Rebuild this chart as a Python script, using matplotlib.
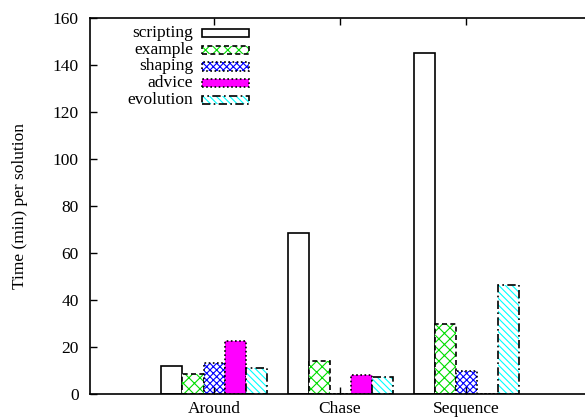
import matplotlib
matplotlib.use("Agg")
import matplotlib.pyplot as plt
from matplotlib.patches import Rectangle
import numpy as np

plt.rcParams["font.family"] = ["Liberation Serif", "DejaVu Serif"]
plt.rcParams["hatch.linewidth"] = 0.8

groups = ["Around", "Chase", "Sequence"]
series = ["scripting", "example", "shaping", "advice", "evolution"]
scripting = [12, 68.5, 145]
example = [8.5, 14, 30]
shaping = [13, 0, 10]
advice = [22.5, 8, 0]
evolution = [11, 7.3, 46.5]
values = [scripting, example, shaping, advice, evolution]

# fill colour, hatch colour, hatch, edge linestyle
styles = [
    ("white", "white", None, "-"),
    ("white", "#00dd00", "xxx", (0, (3, 2))),
    ("white", "blue", "xxxxx", (0, (1, 1.5))),
    ("magenta", "magenta", None, (0, (1, 1.5))),
    ("white", "cyan", "\\\\\\\\\\", (0, (5, 2, 1, 2))),
]

fig = plt.figure(figsize=(5.85, 4.17), dpi=100)
ax = fig.add_axes([90 / 585, 23 / 417, 495 / 585, 376 / 417])

x = np.arange(len(groups))
w = 1 / 6
for i, (name, vals) in enumerate(zip(series, values)):
    face, hcol, hatch, ls = styles[i]
    pos = x + (i - 2) * w
    ax.bar(pos, vals, w, color=face, edgecolor=hcol, hatch=hatch, linewidth=0)
    ax.bar(pos, vals, w, fill=False, edgecolor="black", linewidth=1.2, linestyle=ls)

ax.set_xlim(-0.984, 2.944)
ax.set_ylim(0, 160)
ax.set_yticks(np.arange(0, 161, 20))
ax.set_xticks(x)
ax.set_xticklabels(groups)
ax.tick_params(direction="in", length=5, width=1, top=True, right=False, labelsize=12.5)
ax.tick_params(axis="x", pad=5)
ax.tick_params(axis="y", pad=8)
ax.spines["right"].set_visible(False)
for s in ["left", "top", "bottom"]:
    ax.spines[s].set_linewidth(1.2)
ax.set_ylabel("Time (min) per solution", fontsize=12.5)
ax.yaxis.set_label_coords(-0.125, 0.5)

# legend, gnuplot style: labels right-aligned left of sample boxes
for i, name in enumerate(series):
    face, hcol, hatch, ls = styles[i]
    yc = (394 - (33 + 16.75 * i)) / 376
    x0 = (202 - 90) / 495
    bw = (249 - 202) / 495
    bh = 8 / 376
    ax.text((193 - 90) / 495, yc, name, transform=ax.transAxes, ha="right", va="center", fontsize=12.5)
    ax.add_patch(Rectangle((x0, yc - bh / 2), bw, bh, transform=ax.transAxes,
                           facecolor=face, edgecolor=hcol, hatch=hatch, linewidth=0))
    ax.add_patch(Rectangle((x0, yc - bh / 2), bw, bh, transform=ax.transAxes,
                           fill=False, edgecolor="black", linewidth=1.2, linestyle=ls))

fig.savefig("out.png", dpi=100)
